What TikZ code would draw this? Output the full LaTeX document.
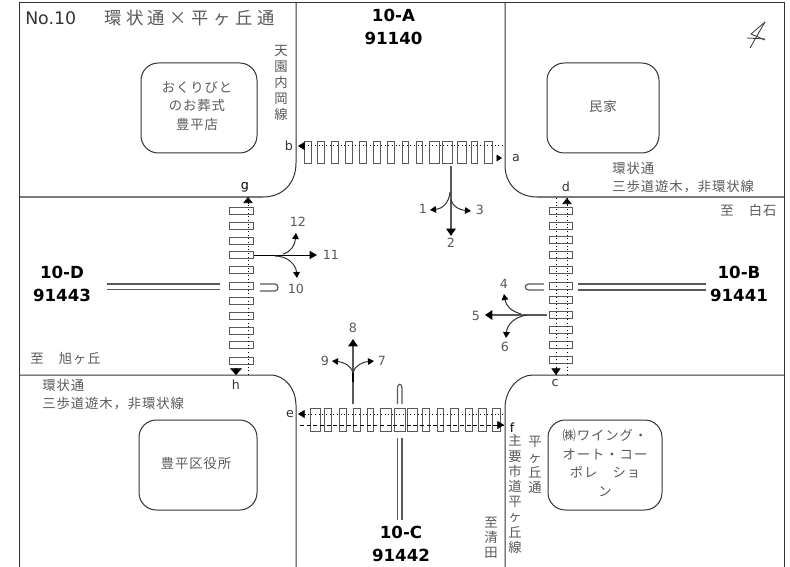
\documentclass[tikz,border=0pt]{standalone}
\usepackage{fontspec}
\usetikzlibrary{arrows.meta}
\setmainfont{DejaVu Sans}
\newfontfamily\jp{Noto Sans CJK JP}
\newfontfamily\jpw[LetterSpace=7]{Noto Sans CJK JP}
\newfontfamily\jpt[LetterSpace=26]{Noto Sans CJK JP}
\definecolor{ink}{gray}{0.2}
\definecolor{soft}{gray}{0.35}
\tikzset{
  x=0.75pt,y=-0.75pt,
  edge/.style={draw=ink,line width=0.75pt},
  zebra/.style={draw=soft,line width=0.75pt,fill=white},
  walk/.style={draw=black,line width=0.75pt,dotted},
  tip/.style={-{Triangle[length=5.5pt,width=6pt]},draw=black,line width=0.75pt},
  fat/.style={-{Triangle[length=5.5pt,width=7pt,color=black]},draw=soft,line width=1.3pt},
  thin tip/.style={-{Triangle[length=4.5pt,width=5pt,color=black]},draw=ink,line width=0.75pt},
  twin/.style={draw=soft,line width=0.9pt},
  bldg/.style={draw=ink,line width=0.75pt,rounded corners=13pt},
  big/.style={font=\bfseries\fontsize{12.5}{17.6}\selectfont,text=black,inner sep=0pt,align=center},
  lab/.style={font=\fontsize{9.5}{10}\selectfont,text=soft,inner sep=0pt},
  jtext/.style={font=\jpw\fontsize{10}{14}\selectfont,text=soft,inner sep=0pt,align=center},
  jleft/.style={jtext,anchor=west,align=left},
  vert/.style={jtext,font=\jp\fontsize{10}{11.4}\selectfont},
}
\begin{document}
\begin{tikzpicture}
\useasboundingbox (0,0) rectangle (790,567);
% frame
\draw[edge] (19,567) -- (19,3) -- (784,3) -- (784,567);
% road edges
\draw[edge] (296,3) -- (296,163) .. controls (296,183) and (283,197) .. (263,197) -- (19,197);
\draw[edge] (505,3) -- (505,165) .. controls (505,184) and (518,197) .. (537,197) -- (784,197);
\draw[edge] (19,375) -- (270,375) .. controls (286,375) and (296,390) .. (296,405) -- (296,567);
\draw[edge] (784,375) -- (533,375) .. controls (518,375) and (505,390) .. (505,408) -- (505,567);
% buildings
\draw[bldg] (141,63) rectangle (257,153);
\draw[bldg] (547,63) rectangle (659,153);
\draw[bldg] (139,420) rectangle (257,510);
\draw[bldg] (548,420) rectangle (662,510);
% crosswalks
\foreach \a/\b in {304/311,317/324,331/338,345/352,359/366,373/380,387/394,402/408,416/422,429/439,442/452,457/466,471/477,484/492}
  \draw[zebra] (\a,142) rectangle (\b,164);
\foreach \a/\b in {310/320,324/331,339/346,353/360,367/373,380/391,394/405,407/417,422/429,437/443,450/458,465/472,478/486,492/500}
  \draw[zebra] (\a,408) rectangle (\b,431);
\foreach \c in {211,226,241,255,270,286,301,316,331,345,361}
  \draw[zebra] (229,\c-3.5) rectangle (253,\c+3.5);
\foreach \c in {211,226,240,255,270,286,300,315,330,345,360}
  \draw[zebra] (549,\c-3.5) rectangle (572,\c+3.5);
% crossing lines and arrows
\coordinate (aEnd) at (502,158); \coordinate (aBeg) at (497,158);
\coordinate (bEnd) at (298,146); \coordinate (bBeg) at (503,146);
\coordinate (cEnd) at (556,375); \coordinate (cBeg) at (556,198);
\coordinate (dEnd) at (567,198); \coordinate (dBeg) at (567,375);
\coordinate (eEnd) at (298,414); \coordinate (eBeg) at (503,414);
\coordinate (fEnd) at (504,425); \coordinate (fBeg) at (300,425);
\coordinate (gEnd) at (248,197); \coordinate (gBeg) at (248,375);
\coordinate (hEnd) at (236,375); \coordinate (hBeg) at (236,368);
\draw[walk] (bBeg) -- (bEnd);
\draw[-{Triangle[length=5pt,width=6pt]},draw=black,line width=0.4pt] (304,146) -- (bEnd);
\draw[-{Triangle[length=4pt,width=5pt]},draw=black,line width=0.4pt] (aBeg) -- (aEnd);
\draw[walk] (cBeg) -- (cEnd);
\draw[-{Triangle[length=5pt,width=7pt]},draw=black,line width=0.4pt] (556,369) -- (cEnd);
\draw[walk] (dBeg) -- (dEnd);
\draw[-{Triangle[length=4.5pt,width=7pt]},draw=black,line width=0.4pt] (567,204) -- (dEnd);
\draw[walk] (eBeg) -- (eEnd);
\draw[-{Triangle[length=5pt,width=6pt]},draw=black,line width=0.4pt] (305,414) -- (eEnd);
\draw[black,line width=0.75pt,dash pattern=on 3pt off 2pt] (fBeg) -- (fEnd);
\draw[-{Triangle[length=5pt,width=6pt]},draw=black,line width=0.4pt] (497,425) -- (fEnd);
\draw[walk] (gBeg) -- (gEnd);
\draw[-{Triangle[length=4.5pt,width=7pt]},draw=black,line width=0.4pt] (248,203) -- (gEnd);
\draw[-{Triangle[length=5pt,width=9pt]},draw=black,line width=0.4pt] (hBeg) -- (hEnd);
% approach A
\coordinate (a0) at (451,166); \coordinate (a2) at (451,236);
\coordinate (a1) at (430,210); \coordinate (a3) at (471,211);
\draw[fat] (a0) -- (a2);
\draw[thin tip] (450,192) .. controls (449,204) and (441,209) .. (a1);
\draw[thin tip] (451,200) .. controls (453,207) and (460,210) .. (a3);
% approach B
\coordinate (b0) at (547,315); \coordinate (b5) at (485,315);
\coordinate (b4) at (504,294); \coordinate (b6) at (506,338);
\draw[fat] (b0) -- (b5);
\draw[thin tip] (521,314) .. controls (511,311) and (506,306) .. (b4);
\draw[thin tip] (527,315) .. controls (514,317) and (507,325) .. (b6);
% approach C
\coordinate (c0) at (353,404); \coordinate (c8) at (353,339);
\coordinate (c9) at (332,361); \coordinate (c7) at (374,361);
\draw[fat] (c0) -- (c8);
\draw[black,line width=1.8pt] (353,373) -- (353,382);
\draw[thin tip] (353,373) .. controls (351,365) and (343,362) .. (c9);
\draw[thin tip] (353,373) .. controls (355,365) and (363,362) .. (c7);
% approach D
\coordinate (d0) at (254,255); \coordinate (d11) at (317,255);
\coordinate (d12) at (296,233); \coordinate (d10) at (297,278);
\draw[tip] (d0) -- (d11);
\draw[thin tip] (283,254) .. controls (291,252) and (295,245) .. (d12);
\draw[thin tip] (275,256) .. controls (288,256) and (296,265) .. (d10);
% detector double lines
\draw[twin] (107,284) -- (220,284) (107,289.5) -- (220,289.5);
\draw[twin] (260,284) -- (275,284) .. controls (279,284) and (279,291) .. (275,291) -- (260,291);
\draw[twin] (578,284) -- (706,284) (578,290) -- (706,290);
\draw[twin] (544,284) -- (529,284) .. controls (524,284) and (524,290) .. (529,290) -- (544,290);
\draw[twin] (397.5,438) -- (397.5,520) (402,438) -- (402,520);
\draw[twin] (397.5,404) -- (397.5,388) .. controls (397.5,383) and (402,383) .. (402,388) -- (402,404);
% north mark
\draw[ink,line width=0.6pt] (765,22) -- (751,34) -- (765,40);
\draw[ink,line width=0.6pt] (765,22) -- (750,48);
\draw[ink,line width=0.6pt] (747,38) -- (765,39);
% section labels
\node[big] (lA) at (393.5,27) {10-A\\91140};
\node[big] (lB) at (739,284) {10-B\\91441};
\node[big] (lC) at (401,544) {10-C\\91442};
\node[big] (lD) at (62,284) {10-D\\91443};
% title
\node[anchor=west,inner sep=0pt,font=\fontsize{13}{15}\selectfont,text=ink] (ttl) at (25,18) {No.10};
\node[anchor=west,inner sep=0pt,font=\jpt\fontsize{13}{15}\selectfont,text=soft] (ttl2) at (104,18) {環状通×平ヶ丘通};
% crossing letters
\node[lab,text=ink] (na) at (516,158) {a};
\node[lab,text=ink] (nb) at (289,146) {b};
\node[lab,text=ink] (nc) at (555,383) {c};
\node[lab,text=ink] (nd) at (566,187) {d};
\node[lab,text=ink] (ne) at (290,414) {e};
\node[lab,text=black] (nf) at (512,428) {f};
\node[lab,text=black] (ng) at (245,187) {g};
\node[lab,text=ink] (nh) at (236,385) {h};
% movement numbers
\node[lab] (m1) at (423,209) {1};
\node[lab] (m2) at (451,243) {2};
\node[lab] (m3) at (480,210) {3};
\node[lab] (m4) at (504,284) {4};
\node[lab] (m5) at (476,316) {5};
\node[lab] (m6) at (505,347) {6};
\node[lab] (m7) at (382,361) {7};
\node[lab] (m8) at (353,328) {8};
\node[lab] (m9) at (325,361) {9};
\node[lab] (m10) at (296,289) {10};
\node[lab] (m11) at (331,255) {11};
\node[lab] (m12) at (298,222) {12};
% japanese text
\node[jtext] (t1) at (197,106) {おくりびと\\のお葬式\\豊平店};
\node[jtext] (t2) at (603,106) {民家};
\node[jtext] (t3) at (196,463) {豊平区役所};
\node[jtext] (t4) at (605,463) {㈱ワイング・\\オート・コー\\ポレ　ショ\\ン};
\node[jleft] (t5) at (612,177.5) {環状通\\三歩道遊木，非環状線};
\node[jleft] (t6) at (42,394.5) {環状通\\三歩道遊木，非環状線};
\node[jleft] (t7) at (720,210) {至　白石};
\node[jleft] (t8) at (30,358) {至　旭ヶ丘};
\node[vert,font=\jp\fontsize{10}{12}\selectfont] (t9) at (281,83) {天\\園\\内\\岡\\線};
\node[vert] (t10) at (515,494) {主\\要\\市\\道\\平\\ヶ\\丘\\線};
\node[vert] (t11) at (535,465) {平\\ヶ\\丘\\通};
\node[vert] (t12) at (491,538) {至\\清\\田};
\end{tikzpicture}
\end{document}
